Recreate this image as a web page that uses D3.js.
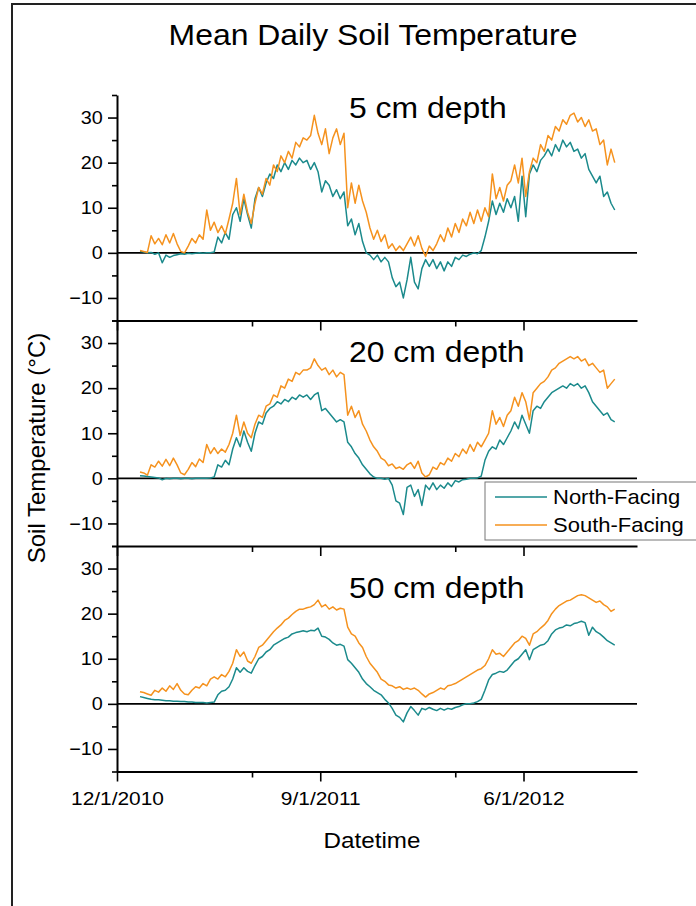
<!DOCTYPE html>
<html>
<head>
<meta charset="utf-8">
<script src="https://d3js.org/d3.v7.min.js"></script>
<style>
  body { margin: 0; background: #fff; }
  svg { display: block; font-family: "Liberation Sans", Arial, sans-serif; }
</style>
</head>
<body>
<div class="wrapper"></div>
<script>
// series: daily means sampled every 5 days from 1/1/2011
var startDay = "2011-01-01";
var stepDays = 5;

var depthLabels = ["5 cm depth", "20 cm depth", "50 cm depth"];
var seriesNames = ["North-Facing", "South-Facing"];
var xTickLabels = ["12/1/2010", "9/1/2011", "6/1/2012"];
var xMajorDates = ["2010-12-01", "2011-09-01", "2012-06-01"];
var xMinorDates = ["2011-06-01", "2012-03-01"];
var yMajor = [-10, 0, 10, 20, 30];
var yMinor = [-15, -5, 5, 15, 25, 35];

var north5 = [
  0.3, 0.2, 0.0, 0.1, -0.3, 0.0, -2.2, -0.5, -1.0, -0.6,
  -0.4, -0.2, -0.3, -0.1, -0.2, -0.1, 0.0, -0.1, 0.0, 0.0,
  0.2, 3.5, 2.2, 4.5, 3.0, 8.5, 10.0, 7.0, 12.0, 8.5,
  5.5, 12.0, 14.5, 12.5, 15.5, 17.5, 16.5, 19.5, 18.0, 20.0,
  18.5, 20.5, 19.5, 21.0, 20.0, 20.5, 18.5, 20.0, 18.0, 13.5,
  16.0, 15.0, 12.5, 14.0, 12.0, 13.5, 6.0, 7.5, 4.0, 6.5,
  2.5, 0.0, -0.5, -1.5, -0.5, -2.0, -1.0, -2.0, -5.5, -7.5,
  -6.5, -10.0, -6.0, -1.0, -6.5, -8.0, -3.5, -1.5, -3.0, -1.5,
  -3.5, -2.0, -4.0, -2.0, -3.0, -1.0, -1.5, -0.5, -0.8, -0.3,
  0.0, -0.2, 0.5, 3.5, 7.0, 11.5, 8.5, 11.0, 9.0, 12.0,
  10.0, 12.5, 7.0, 17.0, 8.0, 17.5, 19.5, 18.0, 20.5, 21.5,
  23.0, 21.5, 24.0, 22.5, 25.0, 23.5, 24.5, 22.5, 23.0, 21.0,
  22.0, 18.5, 17.0, 15.5, 17.0, 12.5, 13.5, 11.0, 9.5
];
var south5 = [
  0.5, 0.3, 0.1, 3.8, 2.0, 3.2, 1.8, 4.0, 2.2, 4.3,
  2.0, 0.3, 0.0, 1.5, 3.2, 2.2, 4.0, 3.0, 9.5, 5.0,
  6.8, 4.5, 6.0, 4.2, 7.5, 11.0, 16.5, 8.5, 13.0, 9.0,
  6.5, 11.0, 14.5, 13.0, 16.5, 15.0, 19.5, 18.0, 21.5, 20.0,
  22.5, 21.0, 24.5, 23.5, 25.5, 25.0, 26.0, 30.5, 26.5, 24.0,
  27.5, 22.0, 25.5, 27.5, 24.0, 26.5, 10.0, 15.5, 11.0, 15.0,
  11.5, 9.0, 5.5, 3.0, 5.0, 2.5, 4.0, 1.0, 2.0, 0.5,
  1.5, 0.5, 2.0, 3.5, 1.5, 3.8, 1.0, -0.8, 1.5, 0.5,
  2.0, 4.0, 2.5, 5.5, 3.5, 6.5, 4.5, 7.5, 6.0, 9.0,
  6.5, 9.5, 7.0, 10.0, 8.0, 17.5, 12.0, 14.5, 11.5, 15.0,
  16.0, 19.5, 15.5, 21.0, 12.5, 18.0, 21.0, 20.0, 24.0, 22.5,
  26.0, 25.0, 28.0, 27.0, 29.5, 28.5, 30.5, 31.0, 29.0, 30.0,
  28.0, 29.5, 27.0, 27.5, 24.0, 25.0, 19.5, 23.0, 20.0
];
var north20 = [
  0.6, 0.5, 0.4, 0.3, 0.2, 0.1, -0.3, 0.0, -0.1, 0.0,
  0.0, -0.1, 0.0, 0.0, -0.1, 0.0, 0.0, 0.0, 0.0, 0.1,
  0.3, 3.0, 2.5, 4.0, 3.0, 6.5, 9.0, 7.0, 10.5, 8.0,
  6.0, 10.0, 12.5, 12.0, 14.5, 15.5, 16.0, 17.0, 16.5, 17.5,
  17.0, 18.0, 17.5, 18.5, 18.0, 18.5, 17.5, 18.5, 19.0, 15.0,
  15.5, 14.5, 13.5, 12.5, 13.0, 12.5, 8.0, 7.0, 5.5, 4.5,
  3.0, 2.0, 1.0, 0.3, 0.0, 0.0, -0.2, 0.0, -1.5, -5.0,
  -5.5, -8.0, -2.0, -1.5, -4.0, -2.5, -6.0, -1.5, -2.5, -1.0,
  -2.5, -1.5, -2.2, -1.0, -1.8, -0.5, -0.8, -0.3, -0.2, 0.0,
  0.0, 0.1, 0.5, 4.0, 6.0, 7.0, 6.5, 8.5, 7.5, 9.0,
  10.5, 12.5, 11.0, 14.0, 12.0, 10.0, 15.0, 16.0, 15.5, 17.0,
  18.0, 19.0, 19.5, 20.0, 20.5, 20.0, 21.0, 20.5, 21.0, 20.0,
  20.5, 19.0, 17.0, 16.0, 15.0, 14.0, 14.5, 13.0, 12.5
];
var south20 = [
  1.4, 1.2, 0.7, 3.0, 2.5, 3.8, 2.7, 4.2, 2.8, 4.5,
  3.0, 1.2, 0.8, 2.0, 3.5, 2.6, 4.3, 3.5, 7.5, 5.5,
  6.8, 5.5, 6.5, 5.8, 7.5, 10.0, 14.0, 9.5, 12.5, 10.0,
  9.0, 12.0, 14.0, 13.5, 16.0, 16.5, 18.5, 18.0, 20.5, 20.0,
  22.0, 21.5, 23.5, 23.0, 24.0, 24.0, 24.5, 26.5, 25.0, 24.0,
  24.5, 23.0, 24.0, 22.5, 23.5, 23.0, 14.0, 16.0, 13.5, 15.0,
  12.0, 10.5, 8.5, 7.0, 6.0, 4.5, 4.0, 2.8, 3.2, 2.2,
  2.5, 2.0, 3.0, 3.5, 2.2, 3.8, 1.2, 0.3, 0.8, 2.5,
  2.0, 3.5, 3.0, 4.5, 3.8, 5.5, 4.8, 6.5, 5.5, 7.5,
  6.0, 8.0, 7.0, 8.5, 10.0, 15.0, 12.0, 13.5, 11.5, 14.0,
  15.0, 18.0, 16.0, 19.0, 17.0, 13.0, 19.0, 20.0, 21.0, 21.5,
  22.5, 24.0, 24.5, 25.5, 26.0, 26.5, 27.0, 26.5, 27.0, 26.0,
  26.5, 25.0, 25.5, 24.5, 23.5, 24.0, 20.0, 21.0, 22.0
];
var north50 = [
  1.6, 1.4, 1.2, 1.0, 0.9, 0.9, 0.8, 0.7, 0.7, 0.6,
  0.6, 0.5, 0.5, 0.4, 0.4, 0.3, 0.3, 0.3, 0.2, 0.3,
  0.4, 2.0, 2.8, 3.0, 3.8, 5.5, 8.0, 7.0, 8.0, 7.2,
  6.8, 8.5, 10.0, 10.5, 11.5, 12.0, 13.0, 13.5, 14.0, 14.5,
  14.8, 15.5, 15.8, 16.0, 16.2, 16.0, 16.3, 16.2, 16.8, 15.0,
  14.8, 14.3, 13.5, 13.0, 13.2, 12.8, 9.8, 9.0, 8.0, 7.0,
  5.5, 4.5, 3.8, 3.0, 2.5, 2.0, 1.0, 0.2, -1.0, -2.5,
  -3.0, -4.0, -2.0, -0.6, -1.5, -2.5, -1.0, -1.3, -0.8, -1.2,
  -1.5, -1.0, -1.4, -1.0, -1.2, -0.8, -0.6, -0.2, 0.0, 0.0,
  0.2, 0.5, 1.0, 3.0, 5.3, 6.5, 6.8, 7.2, 7.0, 7.5,
  8.5, 9.5, 10.0, 11.0, 12.0, 9.8, 12.0, 12.5, 13.0, 13.2,
  14.0, 15.5, 16.4, 16.8, 17.0, 17.5, 17.3, 17.8, 18.0, 18.3,
  18.0, 15.2, 17.0, 16.0, 15.5, 14.8, 14.0, 13.5, 13.0
];
var south50 = [
  2.7, 2.5, 2.2, 1.9, 3.0, 2.6, 3.5, 2.8, 4.0, 3.2,
  4.5, 3.0, 2.2, 2.0, 3.0, 3.8, 3.5, 4.5, 4.0, 5.5,
  6.0, 5.5, 6.5, 6.0, 7.2, 9.0, 12.0, 10.5, 11.5, 9.5,
  9.0, 10.5, 12.5, 13.0, 14.0, 15.0, 16.0, 16.8, 17.5, 18.5,
  19.0, 19.8, 20.5, 21.0, 21.0, 21.3, 21.5, 22.0, 23.0, 21.5,
  22.0, 21.0, 21.5, 20.8, 21.2, 21.0, 17.0, 15.5, 15.0, 13.5,
  12.5, 10.5, 9.0, 8.0, 7.0, 5.5, 5.0, 4.2, 4.0, 3.5,
  3.8, 3.2, 3.5, 3.2, 3.5, 3.0, 2.2, 1.5, 2.2, 2.5,
  3.0, 3.5, 3.2, 4.0, 4.2, 4.5, 5.0, 5.5, 6.0, 6.5,
  7.0, 7.5, 7.8, 8.5, 10.0, 12.0, 11.0, 11.2, 10.5, 11.5,
  12.5, 13.5, 14.0, 15.0, 14.5, 13.0, 15.5, 16.0, 16.8, 17.5,
  18.5, 20.0, 21.0, 21.8, 22.3, 22.8, 23.0, 23.5, 24.0, 24.2,
  24.0, 23.5, 23.0, 22.5, 22.8, 22.0, 21.5, 20.5, 21.0
];

var panels = [
  {label: depthLabels[0], north: north5, south: south5, labelY: 118},
  {label: depthLabels[1], north: north20, south: south20, labelY: 362},
  {label: depthLabels[2], north: north50, south: south50, labelY: 598}
];

var colors = {north: "#1b8a8c", south: "#f5921e"};

var W = 696, H = 906;
var left = 117, right = 637;
var top0 = 95, panelH = 225.5;
var sx = 1.1; // the source font renders a bit wide

var svg = d3.select(".wrapper").append("svg")
  .attr("width", W).attr("height", H);

// outer frame, cut off at right/bottom like the source
svg.append("rect")
  .attr("x", 12).attr("y", 4)
  .attr("width", 720).attr("height", 940)
  .attr("fill", "none").attr("stroke", "#222").attr("stroke-width", 2);

// text placed at (x,y) and stretched horizontally around its anchor
function wideText(x, y, size, txt, anchor) {
  return svg.append("text")
    .attr("transform", "translate(" + x + "," + y + ") scale(" + sx + ",1)")
    .attr("text-anchor", anchor || "start")
    .style("font-size", size + "px")
    .text(txt);
}

var parse = d3.utcParse("%Y-%m-%d");
var x = d3.scaleUtc()
  .domain([parse("2010-12-01"), parse("2012-11-01")])
  .range([left, right]);

var start = parse(startDay);
function dateAt(i) { return d3.utcDay.offset(start, i * stepDays); }

wideText(373, 45, 29, "Mean Daily Soil Temperature", "middle");

panels.forEach(function(p, k) {
  var top = top0 + k * panelH, bottom = top + panelH;
  var y = d3.scaleLinear().domain([-15, 35]).range([bottom, top]);
  var g = svg.append("g");

  // zero line
  g.append("line")
    .attr("x1", left).attr("x2", right)
    .attr("y1", y(0)).attr("y2", y(0))
    .attr("stroke", "#000").attr("stroke-width", 1.6);

  // north + south lines
  [["north", p.north], ["south", p.south]].forEach(function(s) {
    var line = d3.line()
      .x(function(d, i) { return x(dateAt(i)); })
      .y(function(d) { return y(d); });
    g.append("path")
      .datum(s[1])
      .attr("d", line)
      .attr("fill", "none")
      .attr("stroke", colors[s[0]])
      .attr("stroke-width", 1.5)
      .attr("stroke-linejoin", "round");
  });

  // left axis: major + minor
  var yAx = g.append("g").attr("transform", "translate(" + left + ",0)")
    .call(d3.axisLeft(y).tickValues(yMajor).tickSize(9).tickSizeOuter(0).tickPadding(4));
  g.append("g").attr("transform", "translate(" + left + ",0)")
    .call(d3.axisLeft(y).tickValues(yMinor).tickSize(5).tickFormat(""))
    .select(".domain").remove();
  yAx.selectAll("text").style("font-size", "18px")
    .attr("transform", "scale(" + sx + ",1)");

  // bottom axis of each panel, ticks pointing down
  var xAx = g.append("g").attr("transform", "translate(0," + bottom + ")")
    .call(d3.axisBottom(x).tickValues(xMajorDates.map(parse)).tickSize(10).tickSizeOuter(0)
      .tickFormat(function(d, i) { return k == 2 ? xTickLabels[i] : ""; }).tickPadding(6));
  g.append("g").attr("transform", "translate(0," + bottom + ")")
    .call(d3.axisBottom(x).tickValues(xMinorDates.map(parse)).tickSize(6).tickFormat(""))
    .select(".domain").remove();
  xAx.selectAll("text").style("font-size", "19px").attr("dy", "0.9em")
    .attr("transform", "scale(" + sx + ",1)");

  g.selectAll(".domain").attr("stroke-width", 2);
  g.selectAll(".tick line").attr("stroke-width", 1.6);

  wideText(349, p.labelY, 29, p.label);
});

// axis titles
wideText(372, 848, 22, "Datetime", "middle");

svg.append("text")
  .attr("transform", "translate(45,448) rotate(-90)")
  .attr("text-anchor", "middle")
  .style("font-size", "24px")
  .text("Soil Temperature (\u00B0C)");

// legend
var lg = svg.append("g").attr("transform", "translate(485,482)");
lg.append("rect")
  .attr("width", 215).attr("height", 58)
  .attr("fill", "#fff").attr("stroke", "#777").attr("stroke-width", 1);
seriesNames.forEach(function(name, i) {
  var yy = 15 + i * 28;
  lg.append("line")
    .attr("x1", 10).attr("x2", 62).attr("y1", yy).attr("y2", yy)
    .attr("stroke", i == 0 ? colors.north : colors.south).attr("stroke-width", 1.5);
  lg.append("text")
    .attr("transform", "translate(68," + (yy + 7) + ") scale(" + sx + ",1)")
    .style("font-size", "20px")
    .text(name);
});
</script>
</body>
</html>
